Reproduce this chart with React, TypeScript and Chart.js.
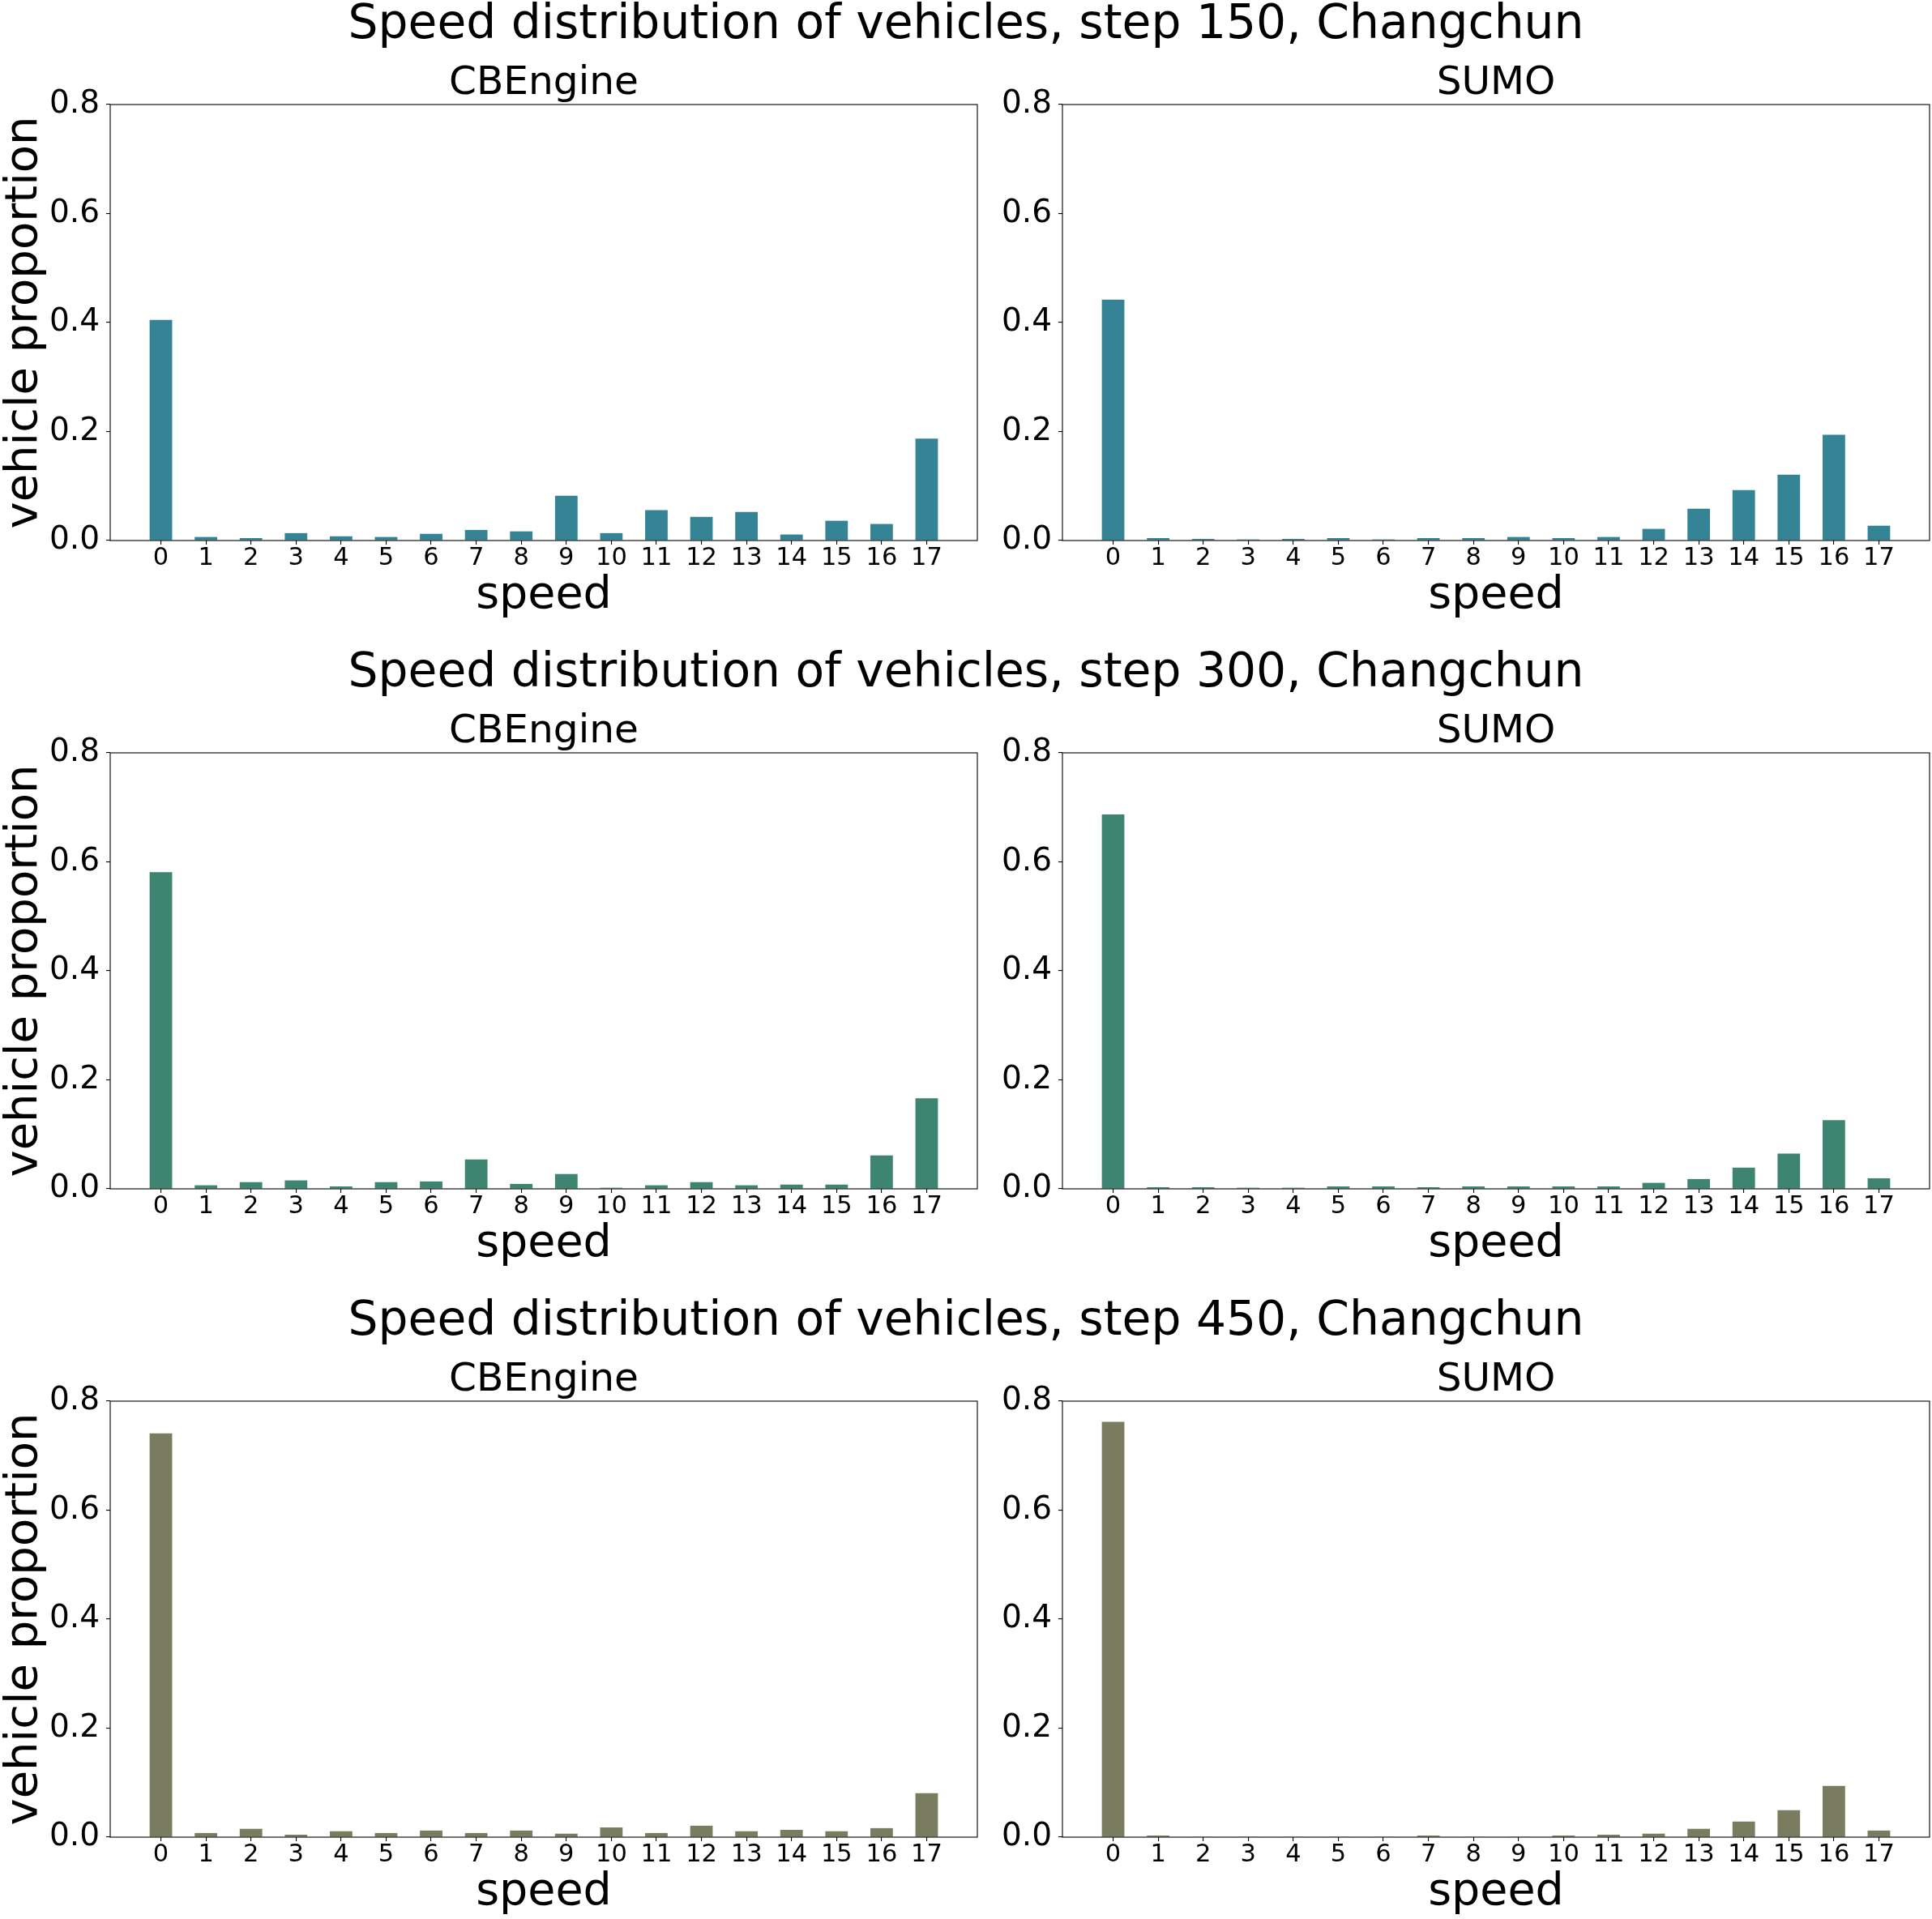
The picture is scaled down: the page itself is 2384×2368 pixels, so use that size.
import React, { useEffect, useRef } from 'react';
import { Chart, registerables } from 'chart.js';

Chart.register(...registerables);

const FONT = '"DejaVu Sans", sans-serif';

// ---- data ----
const speeds = ['0', '1', '2', '3', '4', '5', '6', '7', '8', '9', '10', '11', '12', '13', '14', '15', '16', '17'];
const yTicks = [0, 0.2, 0.4, 0.6, 0.8];
const steps = [150, 300, 450];
const city = 'Changchun';
const simulators = ['CBEngine', 'SUMO'];

const step150CBEngine = [0.405, 0.0065, 0.0045, 0.0136, 0.0078, 0.0065, 0.0123, 0.0194, 0.0168, 0.0823, 0.0136, 0.0557, 0.0434, 0.0525, 0.011, 0.0363, 0.0304, 0.187];
const step150SUMO = [0.442, 0.0045, 0.003, 0.002, 0.003, 0.0045, 0.002, 0.0045, 0.0045, 0.0065, 0.0045, 0.0065, 0.0214, 0.0583, 0.0926, 0.121, 0.194, 0.0272];
const step300CBEngine = [0.581, 0.0065, 0.0123, 0.0155, 0.0045, 0.0123, 0.0136, 0.0538, 0.0091, 0.0272, 0.002, 0.0065, 0.0123, 0.0065, 0.0078, 0.0078, 0.0615, 0.166];
const step300SUMO = [0.687, 0.003, 0.003, 0.002, 0.002, 0.0045, 0.0045, 0.003, 0.0045, 0.0045, 0.0045, 0.0045, 0.011, 0.018, 0.0389, 0.0648, 0.126, 0.0194];
const step450CBEngine = [0.741, 0.0076, 0.0153, 0.0045, 0.0108, 0.0076, 0.0121, 0.0076, 0.0121, 0.0064, 0.0178, 0.0076, 0.021, 0.0108, 0.0134, 0.0108, 0.0165, 0.0808];
const step450SUMO = [0.762, 0.003, 0.001, 0.001, 0.001, 0.001, 0.001, 0.003, 0.001, 0.001, 0.003, 0.0045, 0.0064, 0.0153, 0.0286, 0.0496, 0.0942, 0.0121];

const rowColors = ['rgb(52,132,150)', 'rgb(61,133,112)', 'rgb(122,124,96)'];
const rowData = [
  [step150CBEngine, step150SUMO],
  [step300CBEngine, step300SUMO],
  [step450CBEngine, step450SUMO],
];

// ---- layout ----
const FIG_W = 2384;
const FIG_H = 2368;
const ROW_STEP = 800;
const AXES_BOTTOM = 667;
const CANVAS_TOP = 49; // title space of 80px above axes
const X_AXIS_H = 105;
const COLS = [
  { canvasLeft: 0, yAxisW: 136, axesRight: 1206, padRight: 10 },
  { canvasLeft: 1211, yAxisW: 100, axesRight: 2381, padRight: 3 },
];

const framePlugin = {
  id: 'axesFrame',
  afterDatasetsDraw(chart: any) {
    const { ctx, chartArea: a } = chart;
    ctx.save();
    ctx.strokeStyle = '#000';
    ctx.lineWidth = 1.1;
    ctx.strokeRect(a.left, a.top, a.right - a.left, a.bottom - a.top);
    ctx.restore();
  },
};

type PanelProps = {
  row: number;
  col: number;
};

function Panel({ row, col }: PanelProps) {
  const ref = useRef<HTMLCanvasElement>(null);
  const c = COLS[col];
  const top = CANVAS_TOP + row * ROW_STEP;
  const height = AXES_BOTTOM - CANVAS_TOP + X_AXIS_H;
  const width = c.axesRight + c.padRight - c.canvasLeft;

  useEffect(() => {
    const values = rowData[row][col];
    const chart = new Chart(ref.current as HTMLCanvasElement, {
      type: 'bar',
      data: {
        datasets: [
          {
            data: values.map((v, i) => ({ x: i, y: v })),
            backgroundColor: rowColors[row],
            borderWidth: 0,
            categoryPercentage: 1,
            barPercentage: 0.5,
          },
        ],
      },
      options: {
        responsive: false,
        animation: false,
        events: [],
        layout: { autoPadding: false, padding: { left: 0, right: c.padRight, top: 0, bottom: 0 } },
        plugins: {
          legend: { display: false },
          tooltip: { enabled: false },
          title: {
            display: true,
            fullSize: false,
            text: simulators[col],
            color: '#000',
            font: { family: FONT, size: 48.6, weight: 'normal', lineHeight: 1 },
            padding: { top: 30, bottom: 1.4 },
          },
        },
        scales: {
          x: {
            type: 'linear',
            min: -1.125,
            max: 18.125,
            offset: false,
            grid: {
              display: true,
              drawOnChartArea: false,
              drawTicks: true,
              tickLength: 5,
              color: '#000',
              lineWidth: 1.1,
              offset: false,
            },
            border: { display: false },
            afterBuildTicks: (scale: any) => {
              scale.ticks = speeds.map((_, i) => ({ value: i }));
            },
            afterFit: (scale: any) => {
              scale.height = X_AXIS_H;
            },
            ticks: {
              autoSkip: false,
              maxRotation: 0,
              minRotation: 0,
              padding: 1.5,
              color: '#000',
              font: { family: FONT, size: 30.5, lineHeight: 1 },
              callback: (v: any) => speeds[Math.round(Number(v))] ?? '',
            },
            title: {
              display: true,
              text: 'speed',
              color: '#000',
              font: { family: FONT, size: 55.5, lineHeight: 1.2 },
              padding: { top: 0, bottom: 3 },
            },
          },
          y: {
            type: 'linear',
            min: yTicks[0],
            max: yTicks[yTicks.length - 1],
            grid: {
              display: true,
              drawOnChartArea: false,
              drawTicks: true,
              tickLength: 5,
              color: '#000',
              lineWidth: 1.1,
            },
            border: { display: false },
            afterBuildTicks: (scale: any) => {
              scale.ticks = yTicks.map((v) => ({ value: v }));
            },
            afterFit: (scale: any) => {
              scale.width = c.yAxisW;
            },
            ticks: {
              padding: 8,
              color: '#000',
              font: { family: FONT, size: 39, lineHeight: 1.2 },
              callback: (v: any) => Number(v).toFixed(1),
            },
            title: {
              display: col === 0,
              text: 'vehicle proportion',
              color: '#000',
              font: { family: FONT, size: 56, lineHeight: 1 },
              padding: { top: 2, bottom: 0 },
            },
          },
        },
      },
      plugins: [framePlugin],
    } as any);
    return () => chart.destroy();
  }, [row, col]);

  return (
    <canvas
      ref={ref}
      width={width}
      height={height}
      style={{ position: 'absolute', left: c.canvasLeft, top, width, height, display: 'block' }}
    />
  );
}

export default function App() {
  return (
    <div
      style={{
        position: 'absolute',
        left: 0,
        top: 0,
        width: FIG_W,
        height: FIG_H,
        background: '#fff',
        overflow: 'hidden',
      }}
    >
      {steps.map((s, r) => (
        <div
          key={'sup' + s}
          style={{
            position: 'absolute',
            left: 0,
            top: -2.5 + r * ROW_STEP,
            width: FIG_W,
            textAlign: 'center',
            fontFamily: FONT,
            fontSize: '58.3px',
            lineHeight: '58.3px',
            color: '#000',
            whiteSpace: 'nowrap',
          }}
        >
          {`Speed distribution of vehicles, step ${s}, ${city}`}
        </div>
      ))}
      {steps.map((s, r) =>
        simulators.map((name, c) => <Panel key={`${s}-${name}`} row={r} col={c} />)
      )}
    </div>
  );
}
